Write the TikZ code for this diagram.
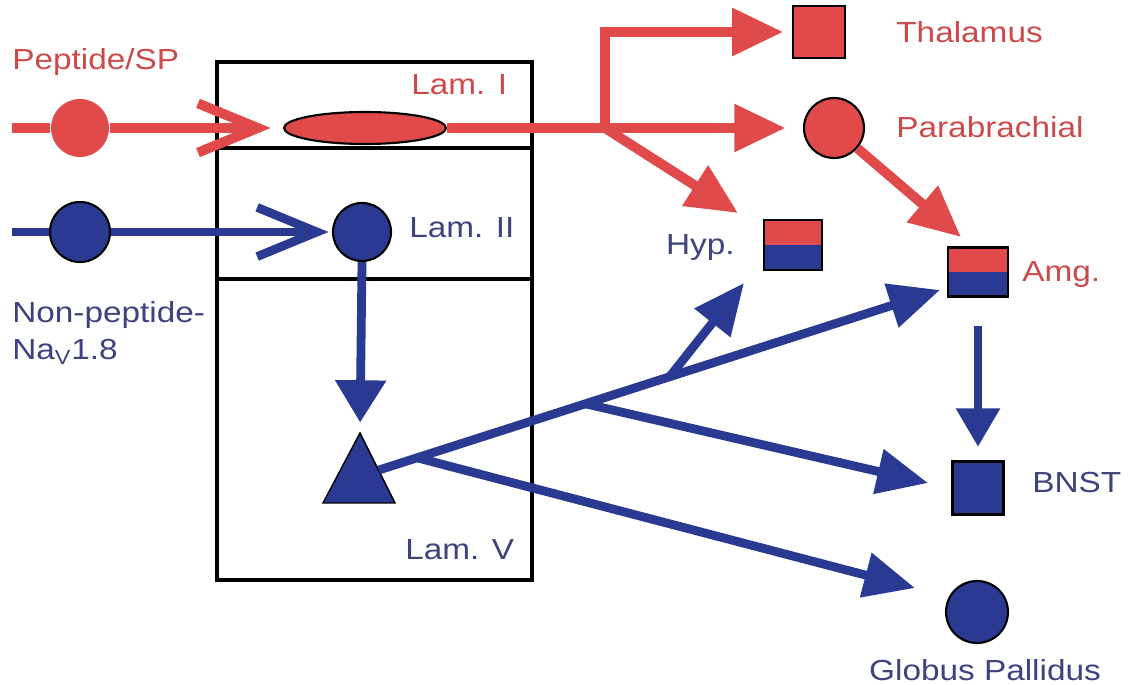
\documentclass[tikz,border=0pt]{standalone}
\usepackage{fontspec}
\setmainfont{Liberation Sans}[FakeStretch=1.15]
\usetikzlibrary{arrows.meta,shapes.geometric,calc}
\definecolor{nred}{RGB}{224,74,74}
\definecolor{nblue}{RGB}{42,58,146}
\definecolor{tred}{RGB}{204,74,74}
\definecolor{tblue}{RGB}{62,66,126}
\begin{document}
\begin{tikzpicture}[x=0.02cm,y=-0.02cm,
  lbl/.style={font=\fontsize{16.5}{18}\selectfont, inner sep=0pt, anchor=base west},
  redax/.style={draw=nred, line width=5.6pt},
  blueax/.style={draw=nblue, line width=5pt},
  headR/.style={-{Triangle[length=29pt,width=26pt]}},
  headB/.style={-{Triangle[length=29pt,width=25pt]}},
  barb/.style={-{Straight Barb[length=34pt,width=28pt]}},
  soma/.style={circle, inner sep=0pt, line width=1.2pt},
  cube/.style={rectangle, inner sep=0pt, line width=1.2pt, draw=black},
  splitbox/.style={cube, fill=nred,
    path picture={\fill[nblue] (path picture bounding box.west) rectangle (path picture bounding box.south east);}},
  lamina/.style={line width=2.4pt, draw=black}
]
\useasboundingbox[fill=white] (0,0) rectangle (1136,685);

% spinal cord laminae
\draw[lamina] (217,62) rectangle (532,580);
\draw[lamina] (217,148) -- (532,148);
\draw[lamina] (217,279) -- (532,279);

% cells
\node[soma, fill=nred, minimum size=1.16cm] (pcell) at (80,128) {};
\node[soma, fill=nblue, draw=black, minimum size=1.2cm] (ncell) at (80,232) {};
\node[ellipse, fill=nred, draw=black, line width=1.2pt, inner sep=0pt,
      minimum width=3.24cm, minimum height=0.64cm] (lam1) at (365,128) {};
\node[soma, fill=nblue, draw=black, minimum size=1.16cm] (lam2) at (362,232) {};
\filldraw[fill=nblue, draw=black, line width=0.8pt] (360,433) -- (323,503) -- (395,503) -- cycle;
\coordinate (triApex) at (360,433);
\coordinate (triOut) at (379,470);

% targets
\node[cube, fill=nred, minimum size=1.04cm] (thal) at (819,32) {};
\node[soma, fill=nred, draw=black, minimum size=1.2cm] (para) at (834,128) {};
\node[splitbox, minimum width=1.16cm, minimum height=1.0cm] (hyp) at (793,245) {};
\node[splitbox, minimum width=1.2cm, minimum height=0.98cm] (amg) at (978,272) {};
\node[cube, fill=nblue, minimum width=1.02cm, minimum height=1.06cm] (bnst) at (978,488) {};
\node[soma, fill=nblue, draw=black, minimum size=1.24cm] (gp) at (977,612) {};

% free ends and tips
\coordinate (pin) at (12,128);
\coordinate (nin) at (12,232);
\coordinate (jr) at (605,128);
\coordinate (hypRedTip) at (738,213);
\coordinate (amgRedTip) at (961,237);
\coordinate (hypBlueTip) at (744,283);
\coordinate (amgBlueTip) at (940,290);
\coordinate (bnstTip) at (928,483);
\coordinate (gpTip) at (915,588);
\coordinate (bGp) at ($(triOut)!0.068!(amgBlueTip)$);
\coordinate (bBnst) at ($(triOut)!0.368!(amgBlueTip)$);
\coordinate (bHyp) at ($(triOut)!0.518!(amgBlueTip)$);

% peptidergic pathway
\draw[redax] (pin) -- (pcell.west);
\draw[redax, barb, shorten >=7pt] (pcell.east) -- (lam1.west);
\draw[redax] (lam1.east) -- (jr);
\draw[redax, headR, shorten >=5pt] (jr) |- (thal.west);
\draw[redax, headR, shorten >=10pt] (jr) -- (para.west);
\draw[redax, headR] (jr) -- (hypRedTip);
\draw[redax, headR] (para.-41) -- (amgRedTip);

% non-peptidergic pathway
\draw[blueax] (nin) -- (ncell.west);
\draw[blueax, barb, shorten >=2pt] (ncell.east) -- (lam2.west);
\draw[blueax, -{Triangle[length=24pt,width=28pt]}, shorten >=6pt] (lam2.south) -- (triApex);
\draw[blueax, headB] (triOut) -- (amgBlueTip);
\draw[blueax, headB] (bBnst) -- (bnstTip);
\draw[blueax, headB] (bHyp) -- (hypBlueTip);
\draw[blueax, headB] (bGp) -- (gpTip);
\draw[blueax, -{Triangle[length=22pt,width=24pt]}, shorten <=16pt, shorten >=7.7pt] (amg.south) -- (bnst.north);

% labels
\node[lbl, text=tred] (tPep) at (12,70) {Peptide/SP};
\node[lbl, text=tred] (tL1) at (411,95) {Lam. I};
\node[lbl, text=tblue] (tL2) at (409,238) {Lam. II};
\node[lbl, text=tblue] (tNon) at (12,323) {Non-peptide-};
\node[lbl, text=tblue] (tNa) at (12,360) {Na\textsubscript{V}1.8};
\node[lbl, text=tblue] (tL5) at (405,560) {Lam. V};
\node[lbl, text=tred] (tThal) at (896,43) {Thalamus};
\node[lbl, text=tred] (tPara) at (896,138) {Parabrachial};
\node[lbl, anchor=base east, text=tblue] (tHyp) at (735,255) {Hyp.};
\node[lbl, text=tred] (tAmg) at (1022,282) {Amg.};
\node[lbl, text=tblue] (tBnst) at (1032,493) {BNST};
\node[lbl, anchor=base, text=tblue] (tGp) at (985,680) {Globus Pallidus};
\end{tikzpicture}
\end{document}
